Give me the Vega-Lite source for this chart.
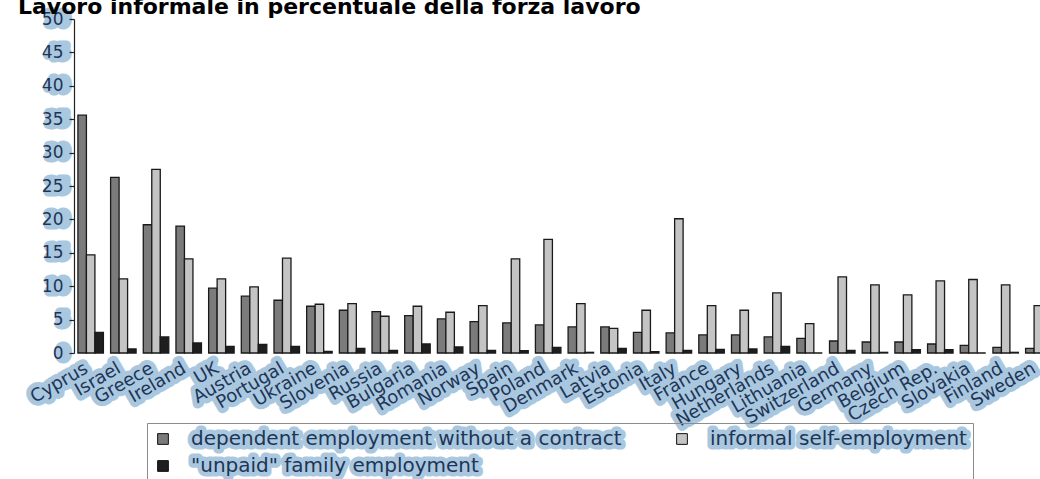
{
  "$schema": "https://vega.github.io/schema/vega-lite/v6.json",
  "autosize": "none",
  "width": 981,
  "height": 334,
  "padding": {"left": 74, "top": 19, "right": 0, "bottom": 126},
  "background": "white",
  "title": {
    "text": "Lavoro informale in percentuale della forza lavoro",
    "anchor": "start",
    "frame": "group",
    "font": "DejaVu Sans",
    "fontSize": 22,
    "fontWeight": "bold",
    "color": "#000000",
    "baseline": "alphabetic",
    "offset": 0,
    "dx": -56,
    "dy": 26
  },
  "data": {
    "values": [
      {"country": "Cyprus", "s": "dependent employment without a contract", "v": 35.6},
      {"country": "Cyprus", "s": "informal self-employment", "v": 14.7},
      {"country": "Cyprus", "s": "\"unpaid\" family employment", "v": 3.1},
      {"country": "Israel", "s": "dependent employment without a contract", "v": 26.3},
      {"country": "Israel", "s": "informal self-employment", "v": 11.1},
      {"country": "Israel", "s": "\"unpaid\" family employment", "v": 0.6},
      {"country": "Greece", "s": "dependent employment without a contract", "v": 19.2},
      {"country": "Greece", "s": "informal self-employment", "v": 27.5},
      {"country": "Greece", "s": "\"unpaid\" family employment", "v": 2.4},
      {"country": "Ireland", "s": "dependent employment without a contract", "v": 19.0},
      {"country": "Ireland", "s": "informal self-employment", "v": 14.1},
      {"country": "Ireland", "s": "\"unpaid\" family employment", "v": 1.5},
      {"country": "UK", "s": "dependent employment without a contract", "v": 9.7},
      {"country": "UK", "s": "informal self-employment", "v": 11.1},
      {"country": "UK", "s": "\"unpaid\" family employment", "v": 1.0},
      {"country": "Austria", "s": "dependent employment without a contract", "v": 8.5},
      {"country": "Austria", "s": "informal self-employment", "v": 9.9},
      {"country": "Austria", "s": "\"unpaid\" family employment", "v": 1.3},
      {"country": "Portugal", "s": "dependent employment without a contract", "v": 7.9},
      {"country": "Portugal", "s": "informal self-employment", "v": 14.2},
      {"country": "Portugal", "s": "\"unpaid\" family employment", "v": 1.0},
      {"country": "Ukraine", "s": "dependent employment without a contract", "v": 7.0},
      {"country": "Ukraine", "s": "informal self-employment", "v": 7.3},
      {"country": "Ukraine", "s": "\"unpaid\" family employment", "v": 0.25},
      {"country": "Slovenia", "s": "dependent employment without a contract", "v": 6.4},
      {"country": "Slovenia", "s": "informal self-employment", "v": 7.4},
      {"country": "Slovenia", "s": "\"unpaid\" family employment", "v": 0.7},
      {"country": "Russia", "s": "dependent employment without a contract", "v": 6.2},
      {"country": "Russia", "s": "informal self-employment", "v": 5.5},
      {"country": "Russia", "s": "\"unpaid\" family employment", "v": 0.4},
      {"country": "Bulgaria", "s": "dependent employment without a contract", "v": 5.6},
      {"country": "Bulgaria", "s": "informal self-employment", "v": 7.0},
      {"country": "Bulgaria", "s": "\"unpaid\" family employment", "v": 1.35},
      {"country": "Romania", "s": "dependent employment without a contract", "v": 5.1},
      {"country": "Romania", "s": "informal self-employment", "v": 6.1},
      {"country": "Romania", "s": "\"unpaid\" family employment", "v": 0.9},
      {"country": "Norway", "s": "dependent employment without a contract", "v": 4.7},
      {"country": "Norway", "s": "informal self-employment", "v": 7.1},
      {"country": "Norway", "s": "\"unpaid\" family employment", "v": 0.4},
      {"country": "Spain", "s": "dependent employment without a contract", "v": 4.5},
      {"country": "Spain", "s": "informal self-employment", "v": 14.1},
      {"country": "Spain", "s": "\"unpaid\" family employment", "v": 0.35},
      {"country": "Poland", "s": "dependent employment without a contract", "v": 4.2},
      {"country": "Poland", "s": "informal self-employment", "v": 17.0},
      {"country": "Poland", "s": "\"unpaid\" family employment", "v": 0.85},
      {"country": "Denmark", "s": "dependent employment without a contract", "v": 3.9},
      {"country": "Denmark", "s": "informal self-employment", "v": 7.4},
      {"country": "Denmark", "s": "\"unpaid\" family employment", "v": 0.1},
      {"country": "Latvia", "s": "dependent employment without a contract", "v": 3.9},
      {"country": "Latvia", "s": "informal self-employment", "v": 3.7},
      {"country": "Latvia", "s": "\"unpaid\" family employment", "v": 0.7},
      {"country": "Estonia", "s": "dependent employment without a contract", "v": 3.1},
      {"country": "Estonia", "s": "informal self-employment", "v": 6.4},
      {"country": "Estonia", "s": "\"unpaid\" family employment", "v": 0.2},
      {"country": "Italy", "s": "dependent employment without a contract", "v": 3.0},
      {"country": "Italy", "s": "informal self-employment", "v": 20.1},
      {"country": "Italy", "s": "\"unpaid\" family employment", "v": 0.4},
      {"country": "France", "s": "dependent employment without a contract", "v": 2.7},
      {"country": "France", "s": "informal self-employment", "v": 7.1},
      {"country": "France", "s": "\"unpaid\" family employment", "v": 0.55},
      {"country": "Hungary", "s": "dependent employment without a contract", "v": 2.7},
      {"country": "Hungary", "s": "informal self-employment", "v": 6.4},
      {"country": "Hungary", "s": "\"unpaid\" family employment", "v": 0.6},
      {"country": "Netherlands", "s": "dependent employment without a contract", "v": 2.4},
      {"country": "Netherlands", "s": "informal self-employment", "v": 9.0},
      {"country": "Netherlands", "s": "\"unpaid\" family employment", "v": 1.0},
      {"country": "Lithuania", "s": "dependent employment without a contract", "v": 2.2},
      {"country": "Lithuania", "s": "informal self-employment", "v": 4.4},
      {"country": "Lithuania", "s": "\"unpaid\" family employment", "v": 0},
      {"country": "Switzerland", "s": "dependent employment without a contract", "v": 1.8},
      {"country": "Switzerland", "s": "informal self-employment", "v": 11.4},
      {"country": "Switzerland", "s": "\"unpaid\" family employment", "v": 0.4},
      {"country": "Germany", "s": "dependent employment without a contract", "v": 1.65},
      {"country": "Germany", "s": "informal self-employment", "v": 10.2},
      {"country": "Germany", "s": "\"unpaid\" family employment", "v": 0.1},
      {"country": "Belgium", "s": "dependent employment without a contract", "v": 1.65},
      {"country": "Belgium", "s": "informal self-employment", "v": 8.7},
      {"country": "Belgium", "s": "\"unpaid\" family employment", "v": 0.5},
      {"country": "Czech Rep.", "s": "dependent employment without a contract", "v": 1.35},
      {"country": "Czech Rep.", "s": "informal self-employment", "v": 10.8},
      {"country": "Czech Rep.", "s": "\"unpaid\" family employment", "v": 0.5},
      {"country": "Slovakia", "s": "dependent employment without a contract", "v": 1.15},
      {"country": "Slovakia", "s": "informal self-employment", "v": 11.0},
      {"country": "Slovakia", "s": "\"unpaid\" family employment", "v": 0},
      {"country": "Finland", "s": "dependent employment without a contract", "v": 0.85},
      {"country": "Finland", "s": "informal self-employment", "v": 10.2},
      {"country": "Finland", "s": "\"unpaid\" family employment", "v": 0.1},
      {"country": "Sweden", "s": "dependent employment without a contract", "v": 0.7},
      {"country": "Sweden", "s": "informal self-employment", "v": 7.1},
      {"country": "Sweden", "s": "\"unpaid\" family employment", "v": 0.1}
    ]
  },
  "layer": [
    {
      "mark": {"type": "bar", "opacity": 0},
      "encoding": {
        "x": {"field": "country", "type": "nominal", "sort": null, "scale": {"paddingInner": 0.22, "paddingOuter": 0.12}, "axis": null},
        "y": {
          "field": "v", "type": "quantitative", "stack": null,
          "scale": {"domain": [0, 50], "nice": false},
          "axis": {
            "orient": "left", "title": null, "domain": false, "ticks": false,
            "values": [0, 5, 10, 15, 20, 25, 30, 35, 40, 45, 50],
            "labelFont": "DejaVu Sans", "labelFontSize": 17, "labelColor": "#a9c8e0",
            "labelPadding": 6, "grid": false,
            "encoding": {"labels": {"stroke": {"value": "#a9c8e0"}, "strokeWidth": {"value": 9}, "strokeJoin": {"value": "round"}}}
          }
        },
        "stroke": {
          "field": "s", "type": "nominal",
          "scale": {"domain": ["dependent employment without a contract", "informal self-employment", "\"unpaid\" family employment"], "range": ["#000000", "#000000", "#000000"]},
          "legend": {
            "orient": "none", "legendX": 73, "legendY": 404, "direction": "horizontal", "columns": 2,
            "title": null, "padding": 6, "symbolType": "square", "symbolSize": 115, "symbolOpacity": 0,
            "labelFont": "DejaVu Sans", "labelFontSize": 20, "labelColor": "#a9c8e0",
            "labelOffset": 18, "columnPadding": 50, "rowPadding": 7, "labelLimit": 0, "zindex": 0,
            "encoding": {"labels": {"stroke": {"value": "#a9c8e0"}, "strokeWidth": {"value": 9}, "strokeJoin": {"value": "round"}}}
          }
        }
      }
    },
    {
      "mark": {"type": "bar", "stroke": "#1a1a1a", "strokeWidth": 1.3},
      "encoding": {
        "x": {
          "field": "country", "type": "nominal", "sort": null,
          "scale": {"paddingInner": 0.22, "paddingOuter": 0.12},
          "axis": {"orient": "bottom", "title": null, "domain": true, "domainColor": "#222222", "domainWidth": 1.2, "ticks": false, "labels": false}
        },
        "xOffset": {
          "field": "s", "type": "nominal",
          "sort": ["dependent employment without a contract", "informal self-employment", "\"unpaid\" family employment"],
          "scale": {"paddingInner": 0, "paddingOuter": 0}
        },
        "y": {
          "field": "v", "type": "quantitative", "stack": null,
          "scale": {"domain": [0, 50], "nice": false},
          "axis": {
            "orient": "left", "title": null, "domain": true, "domainColor": "#222222", "domainWidth": 1.2,
            "ticks": true, "tickColor": "#222222", "tickSize": 5, "tickWidth": 1.2,
            "values": [0, 5, 10, 15, 20, 25, 30, 35, 40, 45, 50],
            "labelFont": "DejaVu Sans", "labelFontSize": 17, "labelColor": "#1f3556",
            "labelPadding": 6, "grid": false
          }
        },
        "fill": {
          "field": "s", "type": "nominal",
          "sort": ["dependent employment without a contract", "informal self-employment", "\"unpaid\" family employment"],
          "scale": {"range": ["#7b7b7b", "#c4c4c4", "#1e1e1e"]},
          "legend": {
            "orient": "none", "legendX": 73, "legendY": 404, "direction": "horizontal", "columns": 2,
            "title": null, "padding": 6, "symbolType": "square", "symbolSize": 115,
            "symbolStrokeColor": "#111111", "symbolStrokeWidth": 1, "strokeColor": "#8c8c8c",
            "labelFont": "DejaVu Sans", "labelFontSize": 20, "labelColor": "#1f3556",
            "labelOffset": 18, "columnPadding": 50, "rowPadding": 7, "labelLimit": 0, "zindex": 1
          }
        }
      }
    },
    {
      "transform": [{"filter": "datum.s === 'informal self-employment'"}],
      "mark": {"type": "text", "angle": 330, "align": "right", "baseline": "top", "font": "DejaVu Sans", "fontSize": 18, "fill": "#a9c8e0", "stroke": "#a9c8e0", "strokeWidth": 10, "strokeJoin": "round"},
      "encoding": {
        "x": {"field": "country", "type": "nominal", "sort": null, "axis": null},
        "xOffset": {"datum": "dependent employment without a contract", "type": "nominal"},
        "y": {"datum": -1.0, "type": "quantitative", "axis": null},
        "text": {"field": "country"}
      }
    },
    {
      "transform": [{"filter": "datum.s === 'informal self-employment'"}],
      "mark": {"type": "text", "angle": 330, "align": "right", "baseline": "top", "font": "DejaVu Sans", "fontSize": 18, "fill": "#1f3556"},
      "encoding": {
        "x": {"field": "country", "type": "nominal", "sort": null, "axis": null},
        "xOffset": {"datum": "dependent employment without a contract", "type": "nominal"},
        "y": {"datum": -1.0, "type": "quantitative", "axis": null},
        "text": {"field": "country"}
      }
    }
  ],
  "resolve": {"axis": {"y": "independent"}},
  "config": {"view": {"stroke": null}}
}
